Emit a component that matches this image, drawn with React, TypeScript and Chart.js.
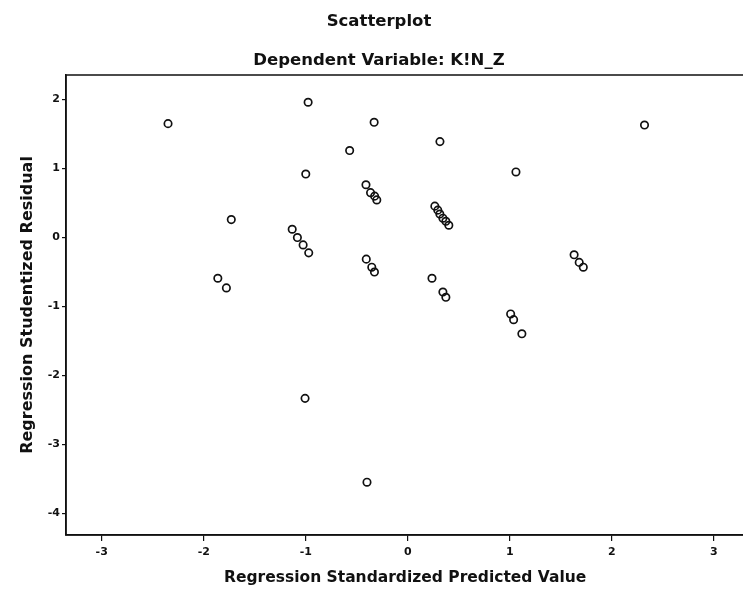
import React, { useEffect, useRef } from "react";
import { Chart, registerables } from "chart.js";

Chart.register(...registerables);

const chartTitle = "Scatterplot";
const chartSubtitle = "Dependent Variable: K!N_Z";
const xAxisTitle = "Regression Standardized Predicted Value";
const yAxisTitle = "Regression Studentized Residual";

const predicted = [
  -2.35, -0.977, -0.33, -0.57, 0.315, 2.32, 1.06, -1.0, -1.73,
  -0.41, -0.365, -0.325, -0.304,
  0.265, 0.294, 0.314, 0.344, 0.373, 0.402,
  -1.133, -1.082, -1.026, -0.971,
  -1.862, -1.778,
  -0.407, -0.353, -0.327,
  0.237, 0.344, 0.373,
  1.63, 1.68, 1.72,
  1.008, 1.037, 1.118,
  -1.007, -0.4,
];
const residual = [
  1.65, 1.96, 1.67, 1.26, 1.39, 1.63, 0.95, 0.92, 0.26,
  0.765, 0.65, 0.6, 0.545,
  0.455, 0.397, 0.34, 0.28, 0.235, 0.178,
  0.12, 0.0, -0.107, -0.222,
  -0.59, -0.73,
  -0.313, -0.43, -0.5,
  -0.59, -0.79, -0.866,
  -0.25, -0.36, -0.43,
  -1.107, -1.19, -1.395,
  -2.33, -3.545,
];

const xTicks = [-3, -2, -1, 0, 1, 2, 3];
const yTicks = [2, 1, 0, -1, -2, -3, -4];

const textPlugin = {
  id: "textPlugin",
  afterDraw(chart: any) {
    const ctx = chart.ctx;
    const a = chart.chartArea;
    ctx.save();
    ctx.strokeStyle = "#111";
    ctx.lineWidth = 1.5;
    ctx.strokeRect(a.left, a.top, a.right - a.left, a.bottom - a.top);
    ctx.fillStyle = "#111";
    ctx.textAlign = "center";
    ctx.textBaseline = "middle";
    ctx.font = "bold 16.5px 'DejaVu Sans'";
    ctx.fillText(chartTitle, 379, 22);
    ctx.fillText(chartSubtitle, 379, 61);
    ctx.restore();
  },
};

export default function App() {
  const ref = useRef<HTMLCanvasElement>(null);
  useEffect(() => {
    const data = predicted.map((x, i) => ({ x, y: residual[i] }));
    const chart = new Chart(ref.current!, {
      type: "scatter",
      data: {
        datasets: [
          {
            data,
            pointStyle: "circle",
            pointRadius: 3.7,
            pointBorderWidth: 1.7,
            borderColor: "#111",
            backgroundColor: "rgba(0,0,0,0)",
          },
        ],
      },
      options: {
        responsive: false,
        animation: false,
        layout: { padding: { top: 75, right: 0, left: 0, bottom: 0 } },
        plugins: { legend: { display: false }, tooltip: { enabled: false }, title: { display: false } },
        scales: {
          x: {
            type: "linear",
            min: -3.35,
            max: 3.298,
            afterFit: (s: any) => { s.height = 54; },
            afterBuildTicks: (s: any) => { s.ticks = xTicks.map((v) => ({ value: v })); },
            border: { display: true, color: "#111", width: 1.5 },
            grid: { display: true, drawOnChartArea: false, drawTicks: true, tickLength: 6, color: "#111", lineWidth: 1.2 },
            ticks: { color: "#111", padding: 5, font: { family: "'DejaVu Sans'", size: 11, weight: "bold" } },
            title: { display: true, text: xAxisTitle, color: "#111", padding: { top: 8, bottom: 2 }, font: { family: "'DejaVu Sans'", size: 15.5, weight: "bold" } },
          },
          y: {
            type: "linear",
            min: -4.31,
            max: 2.355,
            afterFit: (s: any) => { s.width = 66; },
            afterBuildTicks: (s: any) => { s.ticks = yTicks.map((v) => ({ value: v })); },
            border: { display: true, color: "#111", width: 1.5 },
            grid: { display: true, drawOnChartArea: false, drawTicks: true, tickLength: 4, color: "#111", lineWidth: 1.2 },
            ticks: { color: "#111", padding: 2, font: { family: "'DejaVu Sans'", size: 11, weight: "bold" } },
            title: { display: true, text: yAxisTitle, color: "#111", padding: { top: 18, bottom: 4 }, font: { family: "'DejaVu Sans'", size: 16, weight: "bold" } },
          },
        },
      },
      plugins: [textPlugin],
    });
    return () => chart.destroy();
  }, []);
  return (
    <div style={{ position: "fixed", left: 0, top: 0, width: 743, height: 589, overflow: "hidden", background: "#fff" }}>
      <canvas ref={ref} width={750} height={589} style={{ display: "block" }} />
    </div>
  );
}
